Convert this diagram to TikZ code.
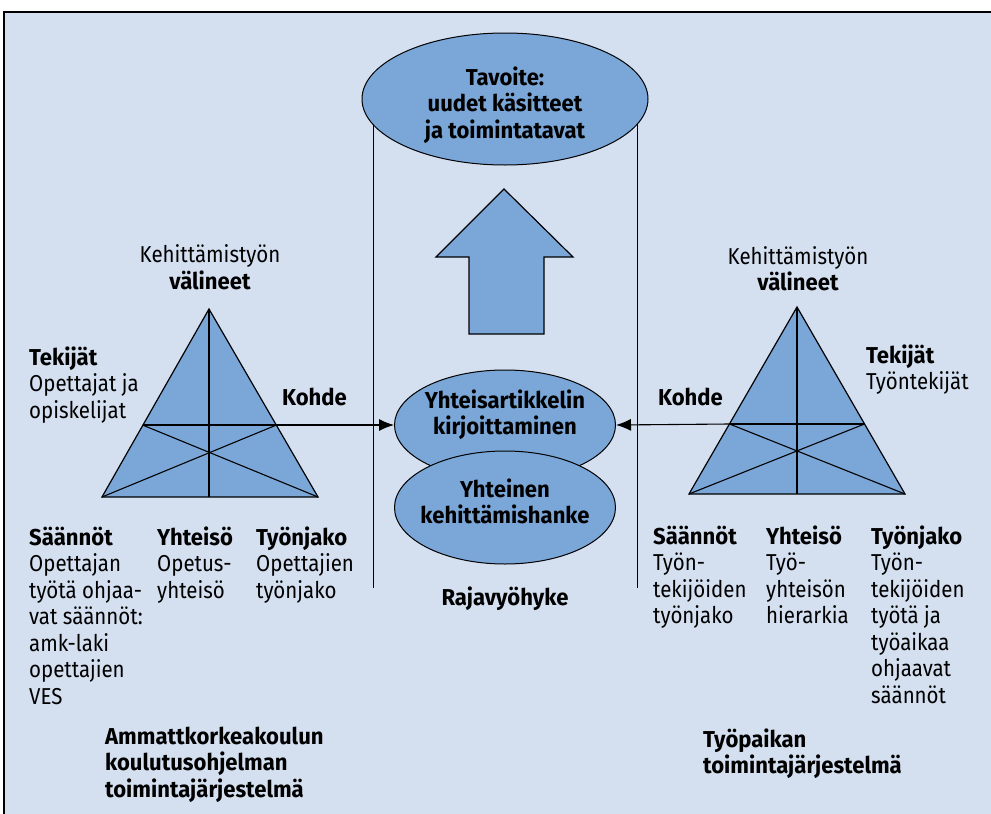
\documentclass[tikz,border=0pt]{standalone}
\usepackage{fontspec}
\setmainfont{Fira Sans}[FakeStretch=0.89, BoldFeatures={FakeStretch=0.96}]
\usetikzlibrary{shapes.geometric,arrows.meta}
\definecolor{panel}{RGB}{212,223,240}
\definecolor{shade}{RGB}{122,167,216}

\begin{document}
\begin{tikzpicture}[x=1pt,y=-1pt,
  txt/.style={font=\fontsize{23}{26.5}\selectfont, inner sep=0pt, text=black},
  lbl/.style={txt, align=left, anchor=north west, execute at begin node=\strut},
  ctr/.style={txt, align=center, anchor=north, execute at begin node=\strut},
  oval/.style={ellipse, draw=black, line width=1pt, fill=shade, inner sep=0pt},
  tri/.style={draw=black, line width=1.2pt, fill=shade, line join=miter},
  thin/.style={draw=black, line width=1.1pt},
  spine/.style={draw=black, line width=2.6pt},
  zone/.style={draw=black, line width=1pt},
  link/.style={draw=black, line width=1.1pt, -{Latex[length=15pt,width=12pt]}}
]
% page and panel
\fill[white] (0,0) rectangle (991,814);
\useasboundingbox (0,0) rectangle (991,814);
\filldraw[fill=panel, draw=black, line width=1.6pt] (4,12) rectangle (998,822);

% boundary zone
\coordinate (zl1) at (373,110); \coordinate (zl2) at (373,588);
\coordinate (zr1) at (637,110); \coordinate (zr2) at (637,588);
\draw[zone] (zl1) -- (zl2);
\draw[zone] (zr1) -- (zr2);

% goal
\node[oval, minimum width=286pt, minimum height=132pt] (goal) at (505,99) {};
\node[ctr] (goaltext) at (505,66.5) {\bfseries Tavoite:\\\bfseries uudet käsitteet\\\bfseries ja toimintatavat};

% big upward arrow
\coordinate (a1) at (504,189);
\coordinate (a2) at (573,257);
\coordinate (a3) at (544,257);
\coordinate (a4) at (544,334);
\coordinate (a5) at (469,334);
\coordinate (a6) at (469,257);
\coordinate (a7) at (436,257);
\filldraw[fill=shade, draw=black, line width=1.2pt] (a1) -- (a2) -- (a3) -- (a4) -- (a5) -- (a6) -- (a7) -- cycle;

% left activity system
\coordinate (lA) at (209,309);
\coordinate (lBL) at (102,497);
\coordinate (lBR) at (318,497);
\coordinate (lHL) at (142.5,425);
\coordinate (lHR) at (276.5,425);
\coordinate (lBM) at (209,497);
\filldraw[tri] (lA) -- (lBL) -- (lBR) -- cycle;
\draw[thin] (lHL) -- (lBR);
\draw[thin] (lHR) -- (lBL);
\draw[spine] (lA) -- (lBM);

% right activity system
\coordinate (rA) at (797,307);
\coordinate (rBL) at (689,494);
\coordinate (rBR) at (905,494);
\coordinate (rHL) at (729.5,424);
\coordinate (rHR) at (864.5,424);
\coordinate (rBM) at (797,494);
\filldraw[tri] (rA) -- (rBL) -- (rBR) -- cycle;
\draw[thin] (rHL) -- (rBR);
\draw[thin] (rHR) -- (rBL);
\draw[spine] (rA) -- (rBM);

% shared objects
\node[oval, minimum width=221pt, minimum height=110pt] (art) at (505,425) {};
\node[oval, minimum width=221pt, minimum height=113pt] (proj) at (505,507.5) {};
\node[ctr] (arttext) at (505,389.5) {\bfseries Yhteisartikkelin\\\bfseries kirjoittaminen};
\node[ctr] (projtext) at (505,478.5) {\bfseries Yhteinen\\\bfseries kehittämishanke};

% object lines to the shared object
\draw[thin] (lHL) -- (lHR);
\draw[link] (lHR) -- (art.west);
\draw[thin] (rHR) -- (rHL);
\draw[link] (rHL) -- (art.east);

% left labels
\node[ctr] (ltool) at (210,244.5) {Kehittämistyön\\\bfseries välineet};
\node[lbl] (lsubj) at (29,346.5) {\bfseries Tekijät\\Opettajat ja\\opiskelijat};
\node[txt, anchor=base west] (lobj) at (282,405) {\bfseries Kohde};
\node[lbl] (lrule) at (29,526.5) {\bfseries Säännöt\\Opettajan\\työtä ohjaa-\\vat säännöt:\\amk-laki\\opettajien\\VES};
\node[lbl] (lcomm) at (157,526.5) {\bfseries Yhteisö\\Opetus-\\yhteisö};
\node[lbl] (ldiv) at (256,526.5) {\bfseries Työnjako\\Opettajien\\työnjako};
\node[lbl] (lsys) at (105,726.5) {\bfseries Ammattkorkeakoulun\\\bfseries koulutusohjelman\\\bfseries toimintajärjestelmä};

% zone label
\node[txt, anchor=base] (zone) at (505,605) {\bfseries Rajavyöhyke};

% right labels
\node[ctr] (rtool) at (798,246) {Kehittämistyön\\\bfseries välineet};
\node[lbl] (rsubj) at (866,344.5) {\bfseries Tekijät\\Työntekijät};
\node[txt, anchor=base west] (robj) at (658,405) {\bfseries Kohde};
\node[lbl] (rrule) at (653,525.5) {\bfseries Säännöt\\Työn-\\tekijöiden\\työnjako};
\node[lbl] (rcomm) at (766,525.5) {\bfseries Yhteisö\\Työ-\\yhteisön\\hierarkia};
\node[lbl] (rdiv) at (871,525.5) {\bfseries Työnjako\\Työn-\\tekijöiden\\työtä ja\\työaikaa\\ohjaavat\\säännöt};
\node[lbl] (rsys) at (703,728.5) {\bfseries Työpaikan\\\bfseries toimintajärjestelmä};
\end{tikzpicture}
\end{document}
